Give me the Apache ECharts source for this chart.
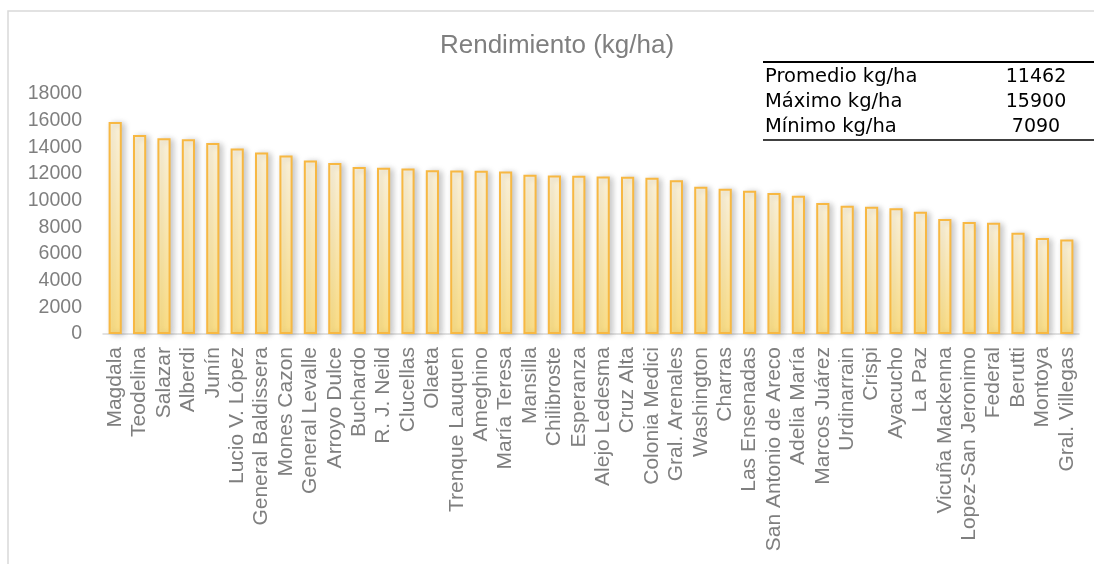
<!DOCTYPE html>
<html>
<head>
<meta charset="utf-8">
<script src="https://cdn.jsdelivr.net/npm/echarts@6/dist/echarts.min.js"></script>
<style>
  html, body { margin: 0; padding: 0; background: #fff; }
  #container { width: 1094px; height: 564px; }
</style>
</head>
<body>
<div id="container"></div>
<script>
var dom = document.getElementById("container");
var myChart = echarts.init(dom);

// localidades, ordenadas de mayor a menor rendimiento
var localidades = ['Magdala', 'Teodelina', 'Salazar', 'Alberdi', 'Junín', 'Lucio V. López',
  'General Baldissera', 'Mones Cazon', 'General Levalle', 'Arroyo Dulce', 'Buchardo',
  'R. J. Neild', 'Clucellas', 'Olaeta', 'Trenque Lauquen', 'Ameghino', 'María Teresa',
  'Mansilla', 'Chilibroste', 'Esperanza', 'Alejo Ledesma', 'Cruz Alta', 'Colonia Medici',
  'Gral. Arenales', 'Washington', 'Charras', 'Las Ensenadas', 'San Antonio de Areco',
  'Adelia María', 'Marcos Juárez', 'Urdinarrain', 'Crispi', 'Ayacucho', 'La Paz',
  'Vicuña Mackenna', 'Lopez-San Jeronimo', 'Federal', 'Berutti', 'Montoya', 'Gral. Villegas'];

// rendimiento kg/ha
var rendimiento = [15900, 14920, 14680, 14600, 14330, 13920, 13620, 13390, 13020, 12820,
  12530, 12470, 12420, 12290, 12270, 12240, 12190, 11940, 11890, 11860,
  11810, 11790, 11710, 11540, 11040, 10890, 10740, 10570, 10360, 9820,
  9620, 9540, 9440, 9170, 8620, 8400, 8340, 7600, 7200, 7090];

var yTicks = { min: 0, max: 18000, interval: 2000 };

// tabla resumen
var tablaEtiquetas = ['Promedio kg/ha', 'Máximo kg/ha', 'Mínimo kg/ha'];
var tablaValores = ['11462', '15900', '7090'];

var gris = '#7f7f7f';
var tablaFont = '"DejaVu Sans", sans-serif';
var fuente = '"Liberation Sans", Arial, sans-serif';

var graficos = [{
  type: 'rect',
  shape: { x: 8, y: 11, width: 1200, height: 700 },
  style: { fill: 'none', stroke: '#d9d9d9', lineWidth: 1.5 },
  silent: true
}, {
  type: 'line',
  shape: { x1: 763, y1: 62, x2: 1094, y2: 62 },
  style: { stroke: '#000', lineWidth: 2 }
}, {
  type: 'line',
  shape: { x1: 763, y1: 140, x2: 1094, y2: 140 },
  style: { stroke: '#000', lineWidth: 1.5 }
}];

tablaEtiquetas.forEach(function (t, i) {
  graficos.push({
    type: 'text',
    x: 765,
    y: 77 + i * 25,
    style: { text: t, fill: '#000', font: '19.5px ' + tablaFont, verticalAlign: 'middle', align: 'left' }
  });
  graficos.push({
    type: 'text',
    x: 1036,
    y: 77 + i * 25,
    style: { text: tablaValores[i], fill: '#000', font: '19px ' + tablaFont, verticalAlign: 'middle', align: 'center' }
  });
});

option = {
  animation: false,
  title: {
    text: 'Rendimiento (kg/ha)',
    left: 557,
    textAlign: 'center',
    top: 33,
    padding: 0,
    textStyle: {
      color: gris,
      fontSize: 26,
      fontWeight: 'normal',
      fontFamily: fuente
    }
  },
  grid: {
    left: 103,
    right: 15,
    top: 94,
    bottom: 230
  },
  xAxis: {
    type: 'category',
    data: localidades,
    axisTick: { show: false },
    axisLine: {
      lineStyle: { color: '#d9d9d9', width: 1.5 }
    },
    axisLabel: {
      interval: 0,
      rotate: 90,
      margin: 13,
      color: gris,
      fontSize: 21,
      fontFamily: fuente
    }
  },
  yAxis: {
    type: 'value',
    min: yTicks.min,
    max: yTicks.max,
    interval: yTicks.interval,
    splitLine: { show: false },
    axisLine: { show: false },
    axisTick: { show: false },
    axisLabel: {
      margin: 21,
      color: gris,
      fontSize: 19.5,
      fontFamily: fuente,
      formatter: function (v) { return String(v); }
    }
  },
  graphic: graficos,
  series: [{
    type: 'bar',
    data: rendimiento,
    barWidth: '54%',
    itemStyle: {
      color: new echarts.graphic.LinearGradient(0, 0, 0, 1, [
        { offset: 0, color: '#fff6de' },
        { offset: 1, color: '#ffe288' }
      ]),
      borderColor: '#f7b843',
      borderWidth: 2,
      shadowColor: 'rgba(0,0,0,0.22)',
      shadowBlur: 6,
      shadowOffsetX: 3,
      shadowOffsetY: 1
    }
  }]
};

if (option && typeof option === "object") {
  myChart.setOption(option, true);
}
</script>
</body>
</html>
